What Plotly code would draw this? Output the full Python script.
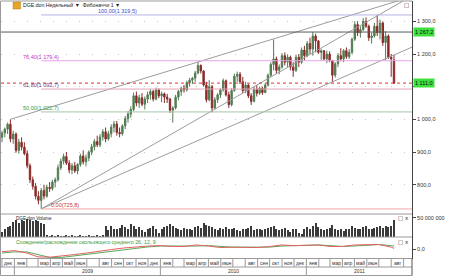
import pandas as pd
import plotly.graph_objects as go

W, H = 450, 276

# ---------------- data ----------------
week_dates = pd.date_range("2008-12-01", periods=141, freq="7D")

opens = [945, 958, 970, 985, 940, 955, 905, 930, 915, 895,
         858, 815, 795, 765, 752, 782, 765, 792, 788, 808,
         815, 852, 872, 886, 866, 845, 858, 842, 862, 888,
         870, 882, 900, 916, 932, 922, 946, 962, 940, 956,
         976, 986, 960, 956, 980, 1002, 1016, 1030, 1072, 1050,
         1066, 1046, 1062, 1075, 1085, 1062, 1090, 1072, 1078, 1068,
         1062, 1028, 1035, 1068, 1085, 1095, 1090, 1112, 1120, 1126,
         1142, 1165, 1148, 1105, 1060, 1100, 1035, 1060, 1075, 1090,
         1118, 1075, 1045, 1088, 1132, 1138, 1115, 1088, 1105, 1072,
         1055, 1092, 1080, 1095, 1082, 1105, 1135, 1168, 1185, 1150,
         1160, 1195, 1175, 1190, 1160, 1150, 1190, 1175, 1212, 1195,
         1232, 1215, 1255, 1240, 1205, 1210, 1185, 1200, 1180, 1135,
         1170, 1195, 1185, 1210, 1192, 1205, 1245, 1290, 1265, 1275,
         1300, 1285, 1250, 1255, 1285, 1265, 1295, 1235, 1255, 1190,
         1182]
highs = [965, 975, 990, 1000, 965, 960, 940, 945, 930, 905,
         865, 825, 805, 780, 790, 800, 800, 808, 815, 822,
         862, 880, 895, 900, 875, 866, 870, 866, 895, 905,
         892, 905, 925, 940, 950, 955, 970, 975, 965, 985,
         995, 995, 975, 985, 1010, 1025, 1040, 1082, 1085, 1075,
         1080, 1070, 1085, 1092, 1090, 1097, 1095, 1085, 1082, 1078,
         1065, 1040, 1075, 1090, 1100, 1105, 1118, 1127, 1130, 1148,
         1176, 1168, 1150, 1115, 1120, 1105, 1068, 1080, 1095, 1125,
         1122, 1085, 1095, 1140, 1146, 1145, 1130, 1115, 1108, 1080,
         1100, 1105, 1100, 1100, 1110, 1140, 1175, 1245, 1192, 1168,
         1203, 1205, 1198, 1195, 1175, 1198, 1200, 1220, 1225, 1240,
         1250, 1267, 1262, 1243, 1215, 1212, 1210, 1208, 1182, 1175,
         1203, 1218, 1215, 1220, 1215, 1250, 1300, 1300, 1285, 1310,
         1312, 1290, 1265, 1295, 1319.5, 1305, 1300, 1270, 1260, 1200,
         1197]
lows = [930, 945, 955, 930, 925, 898, 895, 905, 890, 850,
        805, 785, 755, 740, 725.8, 755, 760, 778, 782, 792,
        810, 845, 862, 860, 835, 832, 836, 832, 855, 862,
        856, 872, 890, 905, 915, 915, 935, 930, 935, 945,
        960, 950, 945, 950, 970, 990, 1005, 1025, 1040, 1035,
        1040, 1030, 1050, 1060, 1055, 1058, 1065, 1052, 1050, 1050,
        1020, 990, 1030, 1058, 1072, 1082, 1085, 1100, 1108, 1115,
        1138, 1140, 1100, 1052, 1055, 1022, 1030, 1050, 1065, 1085,
        1070, 1035, 1040, 1085, 1115, 1108, 1080, 1080, 1065, 1044,
        1052, 1070, 1075, 1075, 1080, 1100, 1130, 1150, 1140, 1138,
        1155, 1165, 1160, 1150, 1130, 1145, 1160, 1170, 1180, 1190,
        1200, 1195, 1205, 1200, 1182, 1180, 1172, 1175, 1115, 1128,
        1160, 1178, 1175, 1185, 1185, 1200, 1240, 1255, 1250, 1270,
        1280, 1240, 1232, 1250, 1255, 1245, 1225, 1180, 1185, 1130,
        1108]
closes = [958, 970, 985, 940, 955, 905, 930, 915, 895, 858,
          815, 795, 765, 752, 782, 765, 792, 788, 808, 815,
          852, 872, 886, 866, 845, 858, 842, 862, 888, 870,
          882, 900, 916, 932, 922, 946, 962, 940, 956, 976,
          986, 960, 956, 980, 1002, 1016, 1030, 1072, 1050, 1066,
          1046, 1062, 1075, 1085, 1062, 1090, 1072, 1078, 1068, 1062,
          1028, 1035, 1068, 1085, 1095, 1090, 1112, 1120, 1126, 1142,
          1165, 1148, 1105, 1060, 1100, 1035, 1060, 1075, 1090, 1118,
          1075, 1045, 1088, 1132, 1138, 1115, 1088, 1105, 1072, 1055,
          1092, 1080, 1095, 1082, 1105, 1135, 1168, 1185, 1150, 1160,
          1195, 1175, 1190, 1160, 1150, 1190, 1175, 1212, 1195, 1232,
          1215, 1255, 1240, 1205, 1210, 1185, 1200, 1180, 1135, 1170,
          1195, 1185, 1210, 1192, 1205, 1245, 1290, 1265, 1275, 1300,
          1285, 1250, 1255, 1285, 1265, 1295, 1235, 1255, 1190, 1185,
          1111]
volumes_m = [12, 20, 26, 28, 40, 45, 38, 46, 42, 47,
             44, 41, 45, 43, 38, 34, 3, 2, 3, 2,
             3, 2, 2, 3, 2, 3, 2, 2, 3, 2,
             2, 3, 2, 2, 3, 2, 3, 30, 18, 28,
             22, 20, 24, 32, 26, 20, 34, 30, 22, 26,
             18, 14, 22, 24, 30, 20, 10, 22, 26, 28,
             34, 30, 24, 20, 18, 24, 20, 22, 18, 26,
             30, 24, 36, 32, 28, 26, 22, 18, 24, 20,
             26, 22, 20, 24, 18, 16, 22, 20, 24, 28,
             18, 20, 22, 18, 20, 24, 26, 30, 22, 18,
             20, 24, 18, 14, 20, 22, 10, 8, 20, 26,
             22, 30, 36, 26, 22, 18, 20, 24, 32, 22,
             18, 20, 16, 20, 22, 30, 24, 22, 20, 26,
             28, 22, 20, 24, 26, 30, 24, 28, 26, 30,
             46]

macd_dates = ["2008-12-01", "2009-01-01", "2009-02-01", "2009-03-01", "2009-04-01",
              "2009-05-01", "2009-06-01", "2009-07-01", "2009-08-01", "2009-09-01",
              "2009-10-01", "2009-11-01", "2009-12-01", "2010-01-01", "2010-02-01",
              "2010-03-01", "2010-04-01", "2010-05-01", "2010-06-01", "2010-07-01",
              "2010-08-01", "2010-09-01", "2010-10-01", "2010-11-01", "2010-12-01",
              "2011-01-01", "2011-02-01", "2011-03-01", "2011-04-01", "2011-05-01",
              "2011-06-01", "2011-07-01", "2011-08-01", "2011-08-08"]
macd_line = [-11, -6, -17, -35, -36, -31, -24, -17, -8, -1, 6, 11, 15, 17, 13, 13, 20,
             15, 8, 10, 10, 8, 13, 20, 17, 20, 20, 13, 13, 20, 22, 22, 10, 4]
macd_signal = [-17, -12, -12, -26, -38, -37, -30, -24, -17, -8, -1, 6, 11, 15, 15, 13, 15,
               17, 13, 10, 10, 9, 10, 15, 17, 17, 20, 17, 13, 15, 20, 22, 17, 15]

fib_labels = ["100,00(1 319,5)", "76,40(1 179,4)", "61,80(1 092,7)", "50,00(1 022,7)", "0,00(725,8)"]
fib_prices = [1319.5, 1179.4, 1092.7, 1022.7, 725.8]
fib_label_dates = ["2009-11-06", "2009-04-25", "2009-04-25", "2009-04-25", "2009-06-14"]
fib_line_colors = ["#b4b4e6", "#e6a6e6", "#e8a4b8", "#a9c4a9", "#f0a8a8"]
fib_text_colors = ["#4848c0", "#c038c0", "#7a3a7a", "#3a9a3a", "#c03a3a"]
fib_start = "2009-03-09"

x_start = "2008-11-28 12:00"
x_end = "2011-09-22"

trend_a_dates = ["2009-03-09", "2011-09-22"]
trend_a_prices = [725.8, 1221.0]
trend_b_dates = ["2009-03-09", "2011-09-22"]
trend_b_prices = [725.8, 1378.0]
trend_c_dates = ["2008-12-22", "2011-09-22"]
trend_c_prices = [1000.0, 1375.8]

level_black = 1267.2
level_red = 1111.0
level_labels = ["1 267,2", "1 111,0"]
level_values = [1267.2, 1111.0]

price_ticks = [800, 900, 1000, 1100, 1200, 1300]
price_tick_text = ["800,0", "900,0", "1 000,0", "", "1 200,0", "1 300,0"]

month_starts = pd.date_range("2008-12-01", "2011-09-01", freq="MS")
month_labels = ["дек", "янв", "", "мар", "апр", "май", "июн", "", "авг", "сен", "окт", "ноя",
                "дек", "янв", "", "мар", "апр", "май", "июн", "", "авг", "сен", "окт", "ноя",
                "дек", "янв", "", "мар", "апр", "май", "июн", "", "авг", ""]
year_labels = ["2009", "2010", "2011"]
year_starts = ["2009-01-01", "2010-01-01", "2011-01-01"]
year_ends = ["2010-01-01", "2011-01-01", x_end]


def px(x):
    return x / W


def py(y):
    return 1 - y / H


FONT = "Liberation Sans, Arial, sans-serif"
GRID = "#c4c4c4"
BORDER = "#9a9a9a"

fig = go.Figure()

fig.add_trace(go.Candlestick(
    x=week_dates, open=opens, high=highs, low=lows, close=closes,
    increasing=dict(line=dict(color="#557a55", width=1), fillcolor="#3f8a3f"),
    decreasing=dict(line=dict(color="#8a2c2c", width=1), fillcolor="#a01a1a"),
    whiskerwidth=0, xaxis="x", yaxis="y", showlegend=False, hoverinfo="skip"))

for dts, prs in [(trend_a_dates, trend_a_prices), (trend_b_dates, trend_b_prices),
                 (trend_c_dates, trend_c_prices)]:
    fig.add_trace(go.Scatter(x=dts, y=prs, mode="lines", xaxis="x", yaxis="y",
                             line=dict(color="#9c9c9c", width=1), showlegend=False,
                             hoverinfo="skip"))

fig.add_trace(go.Bar(x=week_dates, y=[v * 1e6 for v in volumes_m], xaxis="x2", yaxis="y2",
                     marker=dict(color="#3a3a3a", line=dict(width=0)),
                     width=2.4 * 86400000, showlegend=False, hoverinfo="skip"))

fig.add_trace(go.Scatter(x=macd_dates, y=macd_signal, mode="lines", xaxis="x3", yaxis="y3",
                         line=dict(color="#5aaa5a", width=1), showlegend=False, hoverinfo="skip"))
fig.add_trace(go.Scatter(x=macd_dates, y=macd_line, mode="lines", xaxis="x3", yaxis="y3",
                         line=dict(color="#e06060", width=1), showlegend=False, hoverinfo="skip"))

shapes = []
annotations = []

# Fibonacci levels
for lab, pr, dlab, lc, tc in zip(fib_labels, fib_prices, fib_label_dates, fib_line_colors,
                                 fib_text_colors):
    shapes.append(dict(type="line", xref="x", yref="y", x0=fib_start, x1=x_end, y0=pr, y1=pr,
                       line=dict(color=lc, width=1)))
    annotations.append(dict(xref="x", yref="y", x=dlab, y=pr, text=lab, showarrow=False,
                            xanchor="right", yanchor="middle", yshift=4, borderpad=0,
                            font=dict(size=5.5, color=tc, family=FONT)))

# horizontal level lines
shapes.append(dict(type="line", xref="x", yref="y", x0=x_start, x1=x_end, y0=level_black,
                   y1=level_black, line=dict(color="#5a5a5a", width=1)))
shapes.append(dict(type="line", xref="x", yref="y", x0=x_start, x1=x_end, y0=level_red,
                   y1=level_red, line=dict(color="#e03030", width=1, dash="dot")))

for lab, val in zip(level_labels, level_values):
    annotations.append(dict(xref="paper", yref="y", x=px(413), y=val, text=lab,
                            showarrow=False, xanchor="left", yanchor="middle",
                            bgcolor="#3ee03e", borderpad=1,
                            font=dict(size=5.5, color="#111", family=FONT)))

# panel frame lines
for ypx in [1, 214, 237, 258.5, 267, 275.5]:
    shapes.append(dict(type="line", xref="paper", yref="paper", x0=px(0.5), x1=px(412),
                       y0=py(ypx), y1=py(ypx), line=dict(color=BORDER, width=1)))
shapes.append(dict(type="line", xref="paper", yref="paper", x0=px(0.5), x1=px(0.5),
                   y0=py(1), y1=py(275.5), line=dict(color=BORDER, width=1)))
shapes.append(dict(type="line", xref="paper", yref="paper", x0=px(412), x1=px(412),
                   y0=py(258.5), y1=py(275.5), line=dict(color="#555", width=1)))

# month row
month_list = list(month_starts)
month_next = month_list[1:] + [pd.Timestamp(x_end)]
for ms, me, lab in zip(month_list, month_next, month_labels):
    shapes.append(dict(type="line", xref="x", yref="paper", x0=ms, x1=ms,
                       y0=py(267), y1=py(258.5), line=dict(color=BORDER, width=1)))
    if lab:
        annotations.append(dict(xref="x", yref="paper", x=ms + (me - ms) / 2, y=py(262.8),
                                text=lab, showarrow=False, xanchor="center", yanchor="middle",
                                font=dict(size=5, color="#333", family=FONT)))

# year row
for ys, ye, lab in zip(year_starts, year_ends, year_labels):
    a = pd.Timestamp(ys)
    b = pd.Timestamp(ye)
    shapes.append(dict(type="line", xref="x", yref="paper", x0=a, x1=a,
                       y0=py(275.5), y1=py(267), line=dict(color=BORDER, width=1)))
    annotations.append(dict(xref="x", yref="paper", x=a + (b - a) / 2, y=py(271.3), text=lab,
                            showarrow=False, xanchor="center", yanchor="middle",
                            font=dict(size=5, color="#333", family=FONT)))

# header and panel titles
shapes.append(dict(type="rect", xref="paper", yref="paper", x0=px(13), x1=px(20.5),
                   y0=py(9), y1=py(2), fillcolor="#e8a626", line=dict(color="#b07818", width=0.5)))
annotations.append(dict(xref="paper", yref="paper", x=px(21.5), y=py(5),
                        text="DGE:don Недельный ▼  Фибоначчи 1 ▼", showarrow=False,
                        xanchor="left", yanchor="middle", borderpad=0,
                        font=dict(size=5.2, color="#222", family=FONT)))
annotations.append(dict(xref="paper", yref="paper", x=px(14), y=py(218),
                        text="DGE:don Volume", showarrow=False, xanchor="left", yanchor="middle",
                        font=dict(size=4.6, color="#222", family=FONT)))
annotations.append(dict(xref="paper", yref="paper", x=px(14), y=py(241.5),
                        text="Схождение/расхождение скользящего среднего 26, 12, 9",
                        showarrow=False, xanchor="left", yanchor="middle",
                        font=dict(size=5.3, color="#3a9a3a", family=FONT)))
for ypx, t in [(5.5, "□"), (218, "□ x"), (241.5, "□ x")]:
    annotations.append(dict(xref="paper", yref="paper", x=px(411), y=py(ypx), text=t,
                            showarrow=False, xanchor="right", yanchor="middle",
                            font=dict(size=5.5, color="#333", family="DejaVu Sans")))

common_x = dict(type="date", range=[x_start, x_end], domain=[px(1), px(412)],
                showticklabels=False, showgrid=False, zeroline=False, ticks="",
                showline=False)
common_y = dict(side="right", ticks="outside", ticklen=3, tickcolor="#444", showline=True,
                linecolor="#444", linewidth=1, zeroline=False,
                tickfont=dict(size=5.5, color="#333", family=FONT))

fig.update_layout(
    width=W, height=H, margin=dict(l=0, r=0, t=0, b=0),
    paper_bgcolor="white", plot_bgcolor="white", showlegend=False,
    font=dict(family=FONT, size=5.5, color="#333"),
    xaxis=dict(common_x, anchor="y", rangeslider=dict(visible=False)),
    xaxis2=dict(common_x, anchor="y2", matches="x"),
    xaxis3=dict(common_x, anchor="y3", matches="x"),
    yaxis=dict(common_y, domain=[py(214), py(1)], range=[710.3, 1362.2], anchor="x",
               tickvals=price_ticks, ticktext=price_tick_text, showgrid=True,
               gridcolor=GRID, griddash="1px,12px"),
    yaxis2=dict(common_y, domain=[py(237), py(214)], range=[0, 60.5e6], anchor="x2",
                tickvals=[50e6], ticktext=["50 000 000"], showgrid=False),
    yaxis3=dict(common_y, domain=[py(259), py(237)], range=[-44.6, 56.6], anchor="x3",
                tickvals=[0], ticktext=["0,0"], showgrid=False),
    shapes=shapes, annotations=annotations, bargap=0,
)

fig.write_html("out.html")
